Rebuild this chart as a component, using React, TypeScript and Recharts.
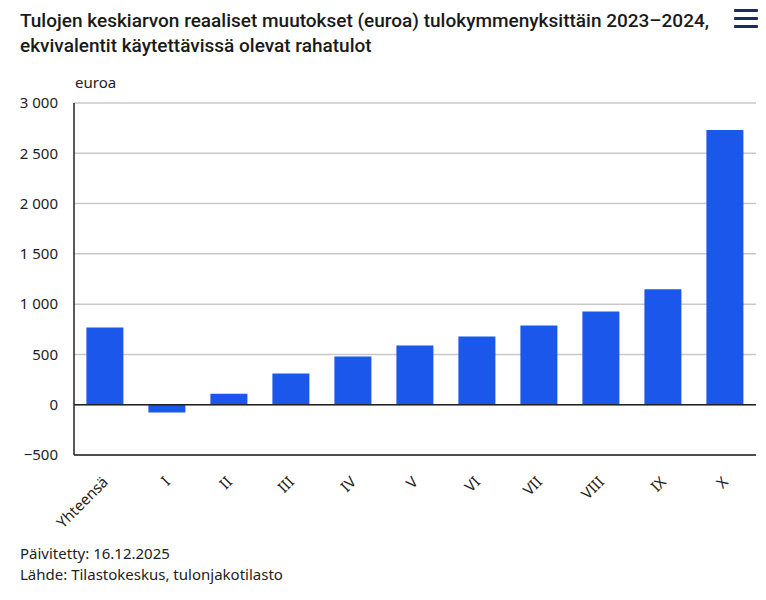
import React from 'react';
import {
  BarChart,
  Bar,
  XAxis,
  YAxis,
  CartesianGrid,
  ReferenceLine,
} from 'recharts';

// tulokymmenykset, real change of mean income (euroa) 2023–2024
const categories = ['Yhteensä', 'I', 'II', 'III', 'IV', 'V', 'VI', 'VII', 'VIII', 'IX', 'X'];
const values = [768, -78, 110, 310, 480, 588, 678, 788, 927, 1147, 2732];
const yTicks = [-500, 0, 500, 1000, 1500, 2000, 2500, 3000];

const data = categories.map((c, i) => ({ name: c, value: values[i] }));

const FONT = '"Noto Sans", sans-serif';

const formatTick = (v: number) => {
  const abs = Math.abs(v)
    .toString()
    .replace(/\B(?=(\d{3})+(?!\d))/g, ' ');
  return v < 0 ? '\u2212' + abs : abs;
};

const XTick = (props: any) => {
  const { x, y, payload } = props;
  return (
    <g transform={`translate(${x + 4},${y + 20})`}>
      <text
        x={0}
        y={0}
        textAnchor="end"
        transform="rotate(-45)"
        fontSize={15}
        fontFamily={FONT}
        fill="#222"
      >
        {payload.value}
      </text>
    </g>
  );
};

export default function App() {
  return (
    <div
      style={{
        position: 'absolute',
        left: 0,
        top: 0,
        width: 766,
        height: 600,
        background: '#fff',
        fontFamily: FONT,
        color: '#222',
      }}
    >
      <div
        style={{
          position: 'absolute',
          left: 20,
          top: 8,
          fontFamily: 'Roboto, sans-serif',
          fontWeight: 500,
          fontSize: 19,
          lineHeight: '25px',
          color: '#1a1a1a',
        }}
      >
        Tulojen keskiarvon reaaliset muutokset (euroa) tulokymmenyksittäin 2023–2024,
        <br />
        ekvivalentit käytettävissä olevat rahatulot
      </div>
      <svg
        width={24}
        height={22}
        style={{ position: 'absolute', left: 734, top: 8 }}
      >
        <rect x={0} y={1} width={24} height={3} fill="#1f2a5c" rx={1} />
        <rect x={0} y={9} width={24} height={3} fill="#1f2a5c" rx={1} />
        <rect x={0} y={17} width={24} height={3} fill="#1f2a5c" rx={1} />
      </svg>
      <span
        style={{
          position: 'absolute',
          left: 75,
          top: 72,
          fontSize: 15,
          lineHeight: '20px',
        }}
      >
        euroa
      </span>
      <div style={{ position: 'absolute', left: 0, top: 0 }}>
        <BarChart
          width={766}
          height={600}
          data={data}
          margin={{ top: 103, right: 10, bottom: 85, left: 0 }}
          barCategoryGap="20%"
        >
          <CartesianGrid vertical={false} stroke="#c8c8c8" strokeWidth={1.5} />
          <XAxis
            dataKey="name"
            interval={0}
            height={60}
            tickLine={false}
            axisLine={{ stroke: '#222', strokeWidth: 1.5 }}
            tick={<XTick />}
          />
          <YAxis
            width={74}
            domain={[-500, 3000]}
            ticks={yTicks}
            tickFormatter={formatTick}
            tickLine={false}
            tickSize={0}
            tickMargin={16}
            axisLine={{ stroke: '#222', strokeWidth: 1.5 }}
            tick={{ fontSize: 15, fontFamily: FONT, fill: '#222' }}
          />
          <ReferenceLine y={0} stroke="#222" strokeWidth={1.5} />
          <Bar dataKey="value" fill="#1b57eb" isAnimationActive={false} />
        </BarChart>
      </div>
      <div
        style={{
          position: 'absolute',
          left: 20,
          top: 543,
          fontSize: 15,
          lineHeight: '21px',
        }}
      >
        Päivitetty: 16.12.2025
        <br />
        Lähde: Tilastokeskus, tulonjakotilasto
      </div>
    </div>
  );
}
